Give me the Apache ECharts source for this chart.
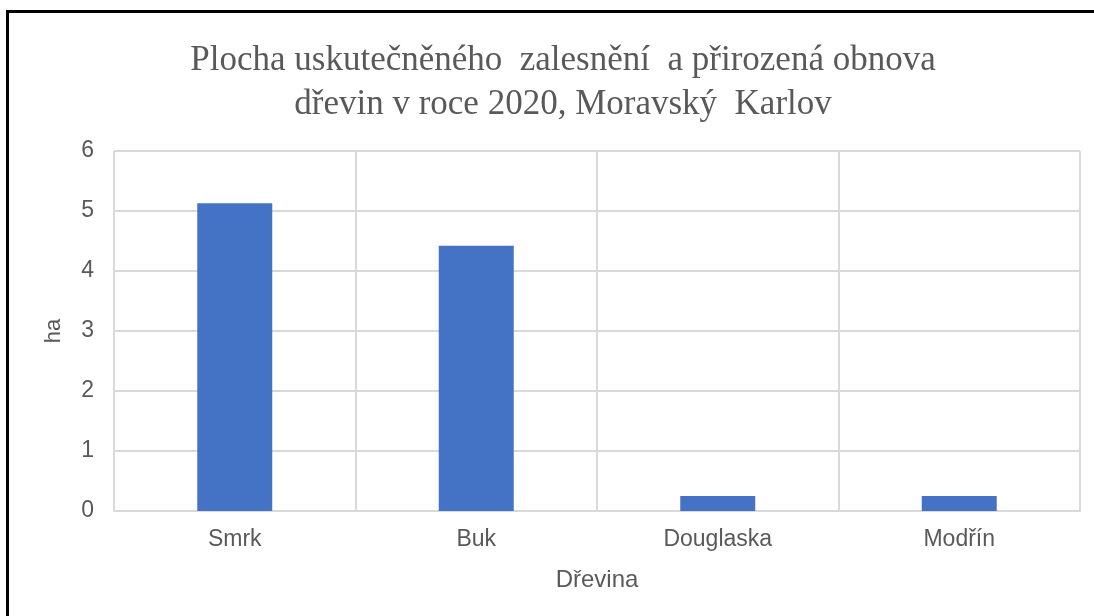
<!DOCTYPE html>
<html>
<head>
<meta charset="utf-8">
<script src="https://cdn.jsdelivr.net/npm/echarts@6/dist/echarts.min.js"></script>
<style>
  html, body { margin: 0; padding: 0; background: #fff; }
  #frame {
    position: absolute; left: 6px; top: 10px; width: 1094px; height: 616px;
    border-left: 3px solid #000; border-top: 3px solid #000;
  }
  #chart { position: absolute; left: 0; top: 0; width: 1094px; height: 616px; }
</style>
</head>
<body>
<div id="frame"></div>
<div id="chart"></div>
<script>
// dreviny a plochy (ha)
const categories = ['Smrk', 'Buk', 'Douglaska', 'Modřín'];
const values = [5.13, 4.42, 0.25, 0.25];
const yTicks = [0, 1, 2, 3, 4, 5, 6];

const gray = '#595959';
const gridColor = '#d9d9d9';

let options = {
  animation: false,
  title: {
    text: 'Plocha uskutečněného  zalesnění  a přirozená obnova\ndřevin v roce 2020, Moravský  Karlov',
    left: 558,
    top: 34,
    textAlign: 'center',
    textStyle: {
      fontFamily: 'Liberation Serif',
      fontWeight: 'normal',
      fontSize: 35,
      lineHeight: 44,
      color: gray
    }
  },
  grid: {
    left: 114,
    right: 14,
    top: 151,
    bottom: 105
  },
  xAxis: {
    type: 'category',
    data: categories,
    name: 'Dřevina',
    nameLocation: 'middle',
    nameGap: 57,
    nameTextStyle: { fontFamily: 'Liberation Sans', fontSize: 24, color: gray },
    axisLine: { show: true, lineStyle: { color: gridColor, width: 2 } },
    axisTick: { show: false },
    axisLabel: { fontFamily: 'Liberation Sans', fontSize: 23, color: gray, margin: 17 },
    splitLine: { show: true, lineStyle: { color: gridColor, width: 2 } }
  },
  yAxis: {
    type: 'value',
    min: yTicks[0],
    max: yTicks[yTicks.length - 1],
    interval: 1,
    name: 'ha',
    nameLocation: 'middle',
    nameGap: 49,
    nameTextStyle: { fontFamily: 'Liberation Sans', fontSize: 22, color: gray },
    axisLine: { show: false },
    axisTick: { show: false },
    axisLabel: { fontFamily: 'Liberation Sans', fontSize: 23, color: gray, margin: 20 },
    splitLine: { lineStyle: { color: gridColor, width: 2 } }
  },
  series: [
    {
      type: 'bar',
      data: values,
      barWidth: 75,
      itemStyle: { color: '#4472c4' }
    }
  ]
};

let myChart = echarts.init(document.getElementById('chart'));
myChart.setOption(options);
</script>
</body>
</html>
